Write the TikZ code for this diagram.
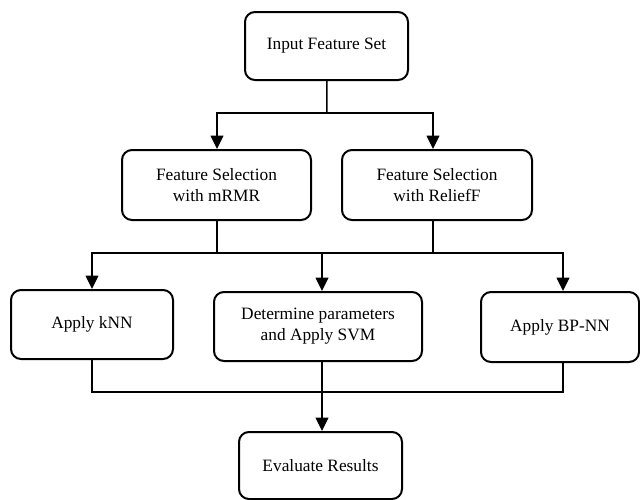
\documentclass[tikz,border=0pt]{standalone}
\usepackage{fontspec}
\setmainfont{Liberation Serif}
\usetikzlibrary{arrows.meta}
\newlength{\du}
\setlength{\du}{0.75pt}
\tikzset{
  stepbox/.style={draw=dialinecolor, fill=white, rounded corners=10\du, line width=2\du,
    align=center, inner sep=0pt, font=\fontsize{13}{15.75}\selectfont},
  link/.style={draw=dialinecolor, line width=1.5\du},
  linkarrow/.style={link, -{Triangle[width=9.5pt,length=10pt]}}
}
\begin{document}
\begin{tikzpicture}
\pgftransformxscale{1.000000}
\pgftransformyscale{-1.000000}
\definecolor{dialinecolor}{rgb}{0.000000, 0.000000, 0.000000}
\pgfsetstrokecolor{dialinecolor}
\useasboundingbox (0\du,0\du) rectangle (640\du,500\du);
% setfont left to latex
\node[stepbox, minimum width=163\du, minimum height=68\du] (input) at (326.500000\du,46.000000\du){Input Feature Set};
\node[stepbox, minimum width=189\du, minimum height=70\du] (mrmr) at (216.500000\du,185.000000\du){Feature Selection\\with mRMR};
\node[stepbox, minimum width=190\du, minimum height=70\du] (relieff) at (437.000000\du,185.000000\du){Feature Selection\\with ReliefF};
\node[stepbox, minimum width=162\du, minimum height=69\du] (knn) at (92.000000\du,324.500000\du){Apply kNN};
\node[stepbox, minimum width=208\du, minimum height=69\du] (svm) at (318.000000\du,326.500000\du){Determine parameters\\and Apply SVM};
\node[stepbox, minimum width=158\du, minimum height=70\du] (bpnn) at (560.000000\du,327.000000\du){Apply BP-NN};
\node[stepbox, minimum width=163\du, minimum height=67\du] (eval) at (320.500000\du,465.500000\du){Evaluate Results};
\coordinate (split) at (327.000000\du,113.000000\du);
\coordinate (merge) at (322.000000\du,253.000000\du);
\coordinate (join) at (322.000000\du,392.000000\du);
\draw[link] (input) -- (split);
\draw[linkarrow] (split) -| ([xshift=0.5\du]mrmr.north);
\draw[linkarrow] (split) -| ([xshift=-4\du]relieff.north);
\draw[link] ([xshift=0.5\du]mrmr.south) |- (merge);
\draw[link] ([xshift=-4\du]relieff.south) |- (merge);
\draw[linkarrow] (merge) -| (knn);
\draw[linkarrow] (merge) -- (merge |- svm.north);
\draw[linkarrow] (merge) -| ([xshift=3\du]bpnn.north);
\draw[link] (knn) |- (join);
\draw[link] ([xshift=3\du]bpnn.south) |- (join);
\draw[link] (svm.south -| join) -- (join);
\draw[linkarrow] (join) -- (join |- eval.north);
\end{tikzpicture}
\end{document}
